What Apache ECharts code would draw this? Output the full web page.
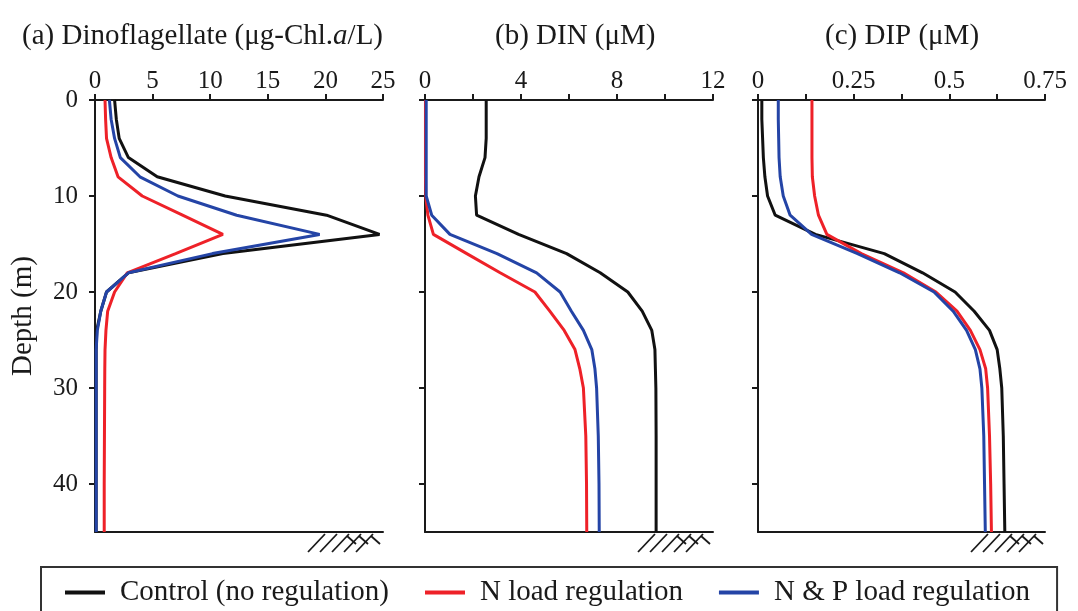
<!DOCTYPE html>
<html>
<head>
<meta charset="utf-8">
<script src="https://cdn.jsdelivr.net/npm/echarts@6/dist/echarts.min.js"></script>
<style>
  html, body { margin: 0; padding: 0; background: #fff; }
  #chart { width: 1078px; height: 611px; }
</style>
</head>
<body>
<div id="chart"></div>
<script>
// Model depth levels (m)
const depth = [0, 2, 4, 6, 8, 10, 12, 14, 16, 18, 20, 22, 24, 26, 28, 30, 35, 40, 45];

// (a) Dinoflagellate (ug-Chl.a/L)
const dinoControl = [1.7, 1.85, 2.1, 2.9, 5.4, 11.3, 20.1, 24.7, 11.1, 2.9, 1.0, 0.5, 0.15, 0.1, 0.1, 0.1, 0.1, 0.1, 0.1];
const dinoN       = [0.87, 0.92, 1.0, 1.4, 2.0, 4.1, 7.6, 11.1, 7.0, 2.8, 1.7, 1.1, 0.95, 0.87, 0.85, 0.84, 0.82, 0.8, 0.8];
const dinoNP      = [1.25, 1.4, 1.7, 2.2, 3.9, 7.2, 12.3, 19.5, 10.2, 2.9, 1.0, 0.5, 0.2, 0.1, 0.1, 0.1, 0.1, 0.1, 0.1];

// (b) DIN (uM)
const dinControl = [2.55, 2.55, 2.55, 2.5, 2.25, 2.1, 2.15, 3.9, 5.9, 7.3, 8.45, 9.05, 9.45, 9.58, 9.6, 9.62, 9.63, 9.63, 9.63];
const dinN       = [0.02, 0.02, 0.02, 0.02, 0.02, 0.03, 0.12, 0.35, 1.74, 3.13, 4.58, 5.2, 5.8, 6.25, 6.45, 6.6, 6.7, 6.73, 6.74];
const dinNP      = [0.05, 0.05, 0.05, 0.05, 0.05, 0.05, 0.28, 1.04, 3.0, 4.65, 5.63, 6.1, 6.6, 6.95, 7.08, 7.15, 7.22, 7.25, 7.26];

// (c) DIP (uM)
const dipControl = [0.01, 0.01, 0.012, 0.014, 0.018, 0.025, 0.045, 0.15, 0.33, 0.43, 0.515, 0.565, 0.605, 0.625, 0.632, 0.637, 0.641, 0.643, 0.645];
const dipN       = [0.141, 0.141, 0.141, 0.141, 0.142, 0.148, 0.158, 0.18, 0.27, 0.38, 0.465, 0.52, 0.555, 0.58, 0.595, 0.6, 0.605, 0.608, 0.61];
const dipNP      = [0.053, 0.053, 0.054, 0.055, 0.058, 0.066, 0.084, 0.14, 0.26, 0.37, 0.46, 0.51, 0.545, 0.568, 0.58, 0.585, 0.59, 0.592, 0.594];

// Scenario names and panel axes
const scenarioNames = ['Control (no regulation)', 'N load regulation', 'N & P load regulation'];
const panelTitles = ['(a) Dinoflagellate (μg-Chl.{i|a}/L)', '(b) DIN (μM)', '(c) DIP (μM)'];
const xMax = [25, 12, 0.75];
const xTickStep = [5, 2, 0.125];
const xLabelStep = [5, 4, 0.25];
const depthTicks = [0, 10, 20, 30, 40];

const panelData = [
  [dinoControl, dinoN, dinoNP],
  [dinControl, dinN, dinNP],
  [dipControl, dipN, dipNP]
];

const colors = ['#111111', '#ee2128', '#2444a6'];
const FONT = 'Liberation Serif';
const INK = '#1a1a1a';

const grids = [
  { left: 95, top: 100, width: 288, height: 432 },
  { left: 425, top: 100, width: 288, height: 432 },
  { left: 758, top: 100, width: 287, height: 432 }
];

const xAxes = [];
const yAxes = [];
const series = [];
const titles = [];
const titleLeft = [17, 490, 820];

for (let i = 0; i < 3; i++) {
  const step = xLabelStep[i];
  // top axis with ticks and labels
  xAxes.push({
    type: 'value', gridIndex: i, position: 'top',
    min: 0, max: xMax[i], interval: xTickStep[i],
    splitLine: { show: false },
    axisLine: { lineStyle: { color: INK, width: 2 } },
    axisTick: { length: 6, lineStyle: { color: INK, width: 2 } },
    axisLabel: {
      margin: 6, fontFamily: FONT, fontSize: 25, color: INK,
      showMaxLabel: true, showMinLabel: true,
      formatter: v => {
        const r = v / step;
        return Math.abs(r - Math.round(r)) < 1e-6 ? String(+v.toFixed(3)) : '';
      }
    }
  });
  // bottom line at the seabed
  xAxes.push({
    type: 'value', gridIndex: i, position: 'bottom',
    min: 0, max: xMax[i],
    splitLine: { show: false },
    axisLine: { onZero: false, lineStyle: { color: INK, width: 2 } },
    axisTick: { show: false },
    axisLabel: { show: false }
  });
  yAxes.push({
    type: 'value', gridIndex: i, inverse: true,
    min: 0, max: 45, interval: 10,
    name: i === 0 ? 'Depth (m)' : '',
    nameLocation: 'middle', nameGap: 57, nameRotate: 90,
    nameTextStyle: { fontFamily: FONT, fontSize: 29, color: INK },
    splitLine: { show: false },
    axisLine: { onZero: false, lineStyle: { color: INK, width: 2 } },
    axisTick: { length: 6, customValues: depthTicks, lineStyle: { color: INK, width: 2 } },
    axisLabel: {
      show: i === 0, margin: 17, fontFamily: FONT, fontSize: 25, color: INK,
      customValues: depthTicks,
      formatter: v => (v % 10 === 0 ? String(v) : '')
    }
  });
  for (let s = 0; s < 3; s++) {
    series.push({
      type: 'line', name: scenarioNames[s],
      xAxisIndex: i * 2, yAxisIndex: i,
      data: panelData[i][s].map((v, k) => [v, depth[k]]),
      showSymbol: false, symbol: 'none', smooth: false,
      clip: false,
      lineStyle: { color: colors[s], width: 3 },
      itemStyle: { color: colors[s] },
      z: s === 0 ? 3 : 4
    });
  }
  titles.push({
    text: panelTitles[i], left: titleLeft[i], top: 17,
    textStyle: {
      fontFamily: FONT, fontSize: 29, fontWeight: 'normal', color: INK,
      rich: { i: { fontFamily: FONT, fontSize: 29, fontStyle: 'italic', color: INK } }
    }
  });
}

const chart = echarts.init(document.getElementById('chart'), null, { renderer: 'canvas' });
chart.setOption({
  animation: false,
  backgroundColor: '#ffffff',
  title: titles,
  grid: grids,
  xAxis: xAxes,
  yAxis: yAxes,
  legend: {
    data: scenarioNames,
    left: 41, top: 567,
    orient: 'horizontal',
    icon: 'rect', itemWidth: 40, itemHeight: 4, itemGap: 36,
    padding: [11, 27, 14, 24],
    borderColor: '#333333', borderWidth: 2,
    textStyle: { fontFamily: FONT, fontSize: 29, color: INK, padding: [0, 0, 0, 10] }
  },
  series: series
});

// Seabed hatch symbol under each panel's bottom line
const hatch = [];
for (let i = 0; i < 3; i++) {
  const p = chart.convertToPixel({ xAxisIndex: i * 2, yAxisIndex: i }, [0, 45]);
  const x0 = p[0] + 213, yb = p[1];
  const style = { stroke: INK, lineWidth: 1.8 };
  for (let k = 0; k < 5; k++) {
    const bx = x0 + k * 12;
    hatch.push({ type: 'line', shape: { x1: bx, y1: yb + 20, x2: bx + 17, y2: yb + 2 }, style });
  }
  for (let k = 2; k < 5; k++) {
    const tx = x0 + k * 12 + 15;
    hatch.push({ type: 'line', shape: { x1: tx, y1: yb + 4, x2: tx + 9, y2: yb + 12 }, style });
  }
}
chart.setOption({ graphic: hatch });
</script>
</body>
</html>
